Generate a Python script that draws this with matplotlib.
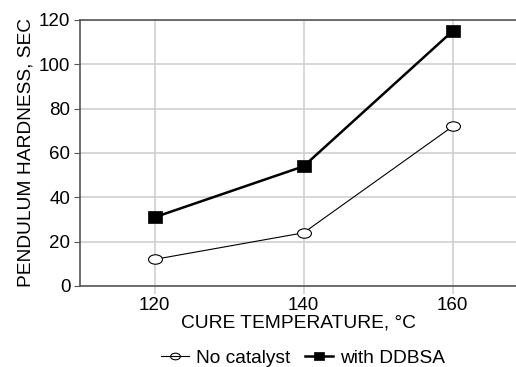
import matplotlib.pyplot as plt
from matplotlib.lines import Line2D
from matplotlib.path import Path
from matplotlib.transforms import Affine2D

plt.rcParams["font.family"] = ["Liberation Sans", "DejaVu Sans"]

temps = [120, 140, 160]
no_catalyst = [12, 24, 72]
with_ddbsa = [31, 54, 115]

# squashed markers, as in the original chart
ellipse = Path.unit_circle().transformed(Affine2D().scale(1.0, 0.68))
rect = Path.unit_rectangle().transformed(Affine2D().translate(-0.5, -0.5).scale(1.0, 0.85))

fig = plt.figure(figsize=(5.16, 3.67), dpi=100)
ax = fig.add_axes([80 / 516, 1 - 286 / 367, 1 - 80 / 516, 266 / 367])

ax.plot(temps, no_catalyst, color="black", linewidth=0.8, marker=ellipse, markersize=10,
        markerfacecolor="white", markeredgecolor="black", markeredgewidth=0.8)
ax.plot(temps, with_ddbsa, color="black", linewidth=1.8, marker=rect, markersize=10,
        markerfacecolor="black", markeredgewidth=0.5)

ax.set_xlim(110, 168.5)
ax.set_ylim(0, 120)
ax.set_xticks(temps)
ax.set_yticks(range(0, 121, 20))
ax.grid(True, color="#d0d0d0", linewidth=1.2)
ax.set_axisbelow(True)

for side in ["left", "bottom", "top"]:
    ax.spines[side].set_color("#555555")
    ax.spines[side].set_linewidth(1.2)
ax.spines["right"].set_visible(False)

ax.tick_params(axis="y", length=4, color="#555555", labelsize=13.5, pad=3)
ax.tick_params(axis="x", length=6, color="#d0d0d0", width=1.2, labelsize=13.5, pad=2)

ax.set_ylabel("PENDULUM HARDNESS, SEC", fontsize=13.8, labelpad=3)
ax.set_xlabel("CURE TEMPERATURE, °C", fontsize=13.8, labelpad=0)

handles = [
    Line2D([], [], color="black", linewidth=0.8, marker=ellipse, markersize=7,
           markerfacecolor="none", markeredgewidth=0.8),
    Line2D([], [], color="black", linewidth=1.8, marker=rect, markersize=7,
           markerfacecolor="black", markeredgewidth=0.5),
]
fig.legend(handles, ["No catalyst", "with DDBSA"], loc="center",
           bbox_to_anchor=(303 / 516, 1 - 358 / 367), ncol=2, frameon=False,
           fontsize=13.8, handlelength=1.45, handletextpad=0.36, columnspacing=0.8, borderpad=0)

fig.savefig("out.png", dpi=100)
